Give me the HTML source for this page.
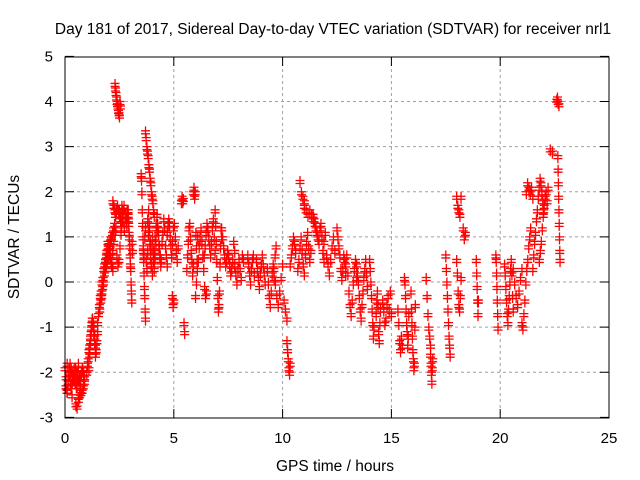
<!DOCTYPE html>
<html><head><meta charset="utf-8"><style>
body{margin:0;background:#fff}
svg{display:block;font-family:"Liberation Sans",sans-serif;font-size:15px}
</style></head><body>
<svg id="c" width="640" height="480">
<text x="333" y="34" text-anchor="middle" font-size="15.5">Day 181 of 2017, Sidereal Day-to-day VTEC variation (SDTVAR) for receiver nrl1</text>
<text x="335" y="471" text-anchor="middle" font-size="15.5">GPS time / hours</text>
<text transform="translate(19,237) rotate(-90)" text-anchor="middle" font-size="15.5">SDTVAR / TECUs</text>
<g id="grid"></g><g id="ticks"></g><g id="marks"></g>
<rect x="65" y="57" width="544" height="361" fill="none" stroke="#000"/>
</svg>
<script>
const xTicks=[0,5,10,15,20,25];
const yTicks=[-3,-2,-1,0,1,2,3,4,5];
// tracks: [startHour, endHour, values...]
const tracks=[
[0.0,0.9,-1.9,-2.3,-2.4,-2.1,-2.0,-2.2,-1.9,-2.0,-2.1,-1.9,-2.2,-2.3,-2.0,-1.8,-2.1,-2.2,-2.0,-1.9,-2.0,-2.1],
[0.05,0.6,-2.1,-2.4,-2.2,-2.0,-1.8,-2.3,-2.5,-2.1,-1.95,-2.2,-2.0,-2.3,-2.1],
[0.1,0.8,-1.8,-1.9,-2.0,-2.2,-2.1,-1.9,-2.0,-2.2,-2.1,-1.9],
[0.5,0.9,-2.7,-2.75,-2.6,-2.5,-2.45,-2.4,-2.3,-2.2],
[1.0,1.5,-2.0,-1.8,-1.7,-1.5,-1.4,-1.2,-1.1,-0.9,-0.8,-0.9,-1.0,-1.2,-1.4,-1.5,-1.3,-1.1],
[1.1,1.4,-1.9,-1.6,-1.3,-1.0,-0.8,-0.9,-1.1,-1.3,-1.6],
[1.5,2.1,-0.9,-0.7,-0.5,-0.3,-0.2,0.0,0.1,0.3,0.4,0.5,0.6,0.7,0.8,0.85,0.9,1.0],
[1.6,2.2,-0.6,-0.4,-0.3,-0.1,0,0.2,0.3,0.4,0.5,0.6,0.7,0.6,0.5,0.4,0.3],
[1.7,2.3,-0.2,0.1,0.3,0.5,0.7,0.9,0.8,0.6,0.4,0.7,0.9,1.1],
[2.0,2.6,0.6,0.8,0.9,1.0,1.1,1.2,1.3,1.5,1.6,1.7,1.6,1.5,1.4,1.3],
[2.3,2.55,4.4,4.3,4.2,4.1,4.0,3.95,3.9,3.8,3.75,3.7,4.0,3.9],
[2.2,2.9,1.8,1.7,1.6,1.2,0.6,0.4,0.5,0.8,1.1,1.4,1.6,1.7,1.5,1.4,1.6,1.5],
[2.5,2.9,1.6,1.5,1.7,1.4,1.2,1.5,1.3,1.6],
[2.9,3.1,1.6,1.4,1.3,1.1,1.0,0.8,0.6,0.4,0.3,0.0,-0.2,-0.4,0.9,0.7],
[3.5,3.7,2.4,2.3,2.0,1.6,1.3,1.0,0.7,0.5,0.2,-0.1,-0.3,-0.6,-0.8],
[3.7,4.1,3.35,3.2,3.0,2.9,2.8,2.6,2.5,2.3,2.2,2.0,1.9,1.8,1.6,1.5],
[3.6,4.1,0.8,0.6,1.0,1.2,0.5,0.3,0.7,1.1,1.3,0.9,0.6,0.4,0.8,1.0,0.7,0.5],
[4.1,4.7,0.3,0.6,0.9,1.2,1.3,1.1,0.8,0.6,0.5,0.9,1.1,1.4,1.2,0.8,0.6,0.4],
[3.8,4.4,1.4,1.6,1.2,0.9,0.4,0.2,0.5,0.7,1.0,1.3,1.5,1.2,0.8,0.6,0.4],
[4.7,5.0,1.1,1.3,1.4,1.3,1.0,0.8,0.6,-0.3,-0.5,-0.4],
[4.9,5.2,0.6,0.9,1.2,1.3,1.0,0.7,0.5,0.8],
[5.35,5.5,1.8,1.9,1.8,1.85,-0.9,-1.1],
[5.6,5.9,0.3,0.6,0.9,1.2,1.3,1.0,0.7,0.5,0.2,0.4],
[5.9,6.1,2.0,2.1,1.9,2.0,1.1,0.8,0.5,1.0],
[6.0,6.5,-0.3,0.0,0.3,0.5,0.8,1.0,1.2,0.9,0.6,0.3,-0.1,-0.3,-0.2],
[6.4,6.9,0.6,0.8,1.1,1.3,1.2,1.0,0.8,0.6,0.9,1.2,1.4,1.0,0.7],
[6.9,7.2,1.6,1.3,0.9,0.5,0.1,-0.3,-0.6,-0.5,-0.2,0.4,0.8,1.2,1.0],
[7.2,7.8,1.2,1.0,0.8,0.6,0.4,0.5,0.7,0.6,0.4,0.2,0.3,0.5,0.9,0.7],
[7.8,8.2,0.4,0.2,0.0,0.3,0.5,0.3,0.1,0.6,0.5],
[8.4,8.7,0.6,0.4,0.2,0.0,0.3,0.5,0.6,0.2],
[8.8,9.2,0.5,0.3,0.1,-0.1,0.2,0.4,0.6,0.4,0.2,0.0],
[9.3,9.7,0.3,0.0,-0.3,-0.5,-0.2,0.2,0.4,0.1,0.6,0.8],
[9.6,10.2,0.3,0.0,-0.3,-0.5,-0.2,0.1,0.4,-0.4,-0.6,-0.8],
[10.2,10.35,-1.3,-1.5,-1.7,-1.9,-2.0,-1.8],
[10.35,10.6,0.4,0.6,0.8,1.0,0.9,0.7],
[10.8,11.0,2.25,2.0,1.9,1.8],
[11.0,11.5,1.7,1.6,1.5,1.6,1.5,1.4,1.3],
[10.7,11.3,0.3,0.5,0.8,1.0,0.7,0.4,0.2,0.6,0.9,1.1,0.8,0.5,0.7],
[11.4,11.9,1.5,1.4,1.3,1.2,1.1,1.0,0.9,1.2,1.3,1.0,0.7,0.5],
[11.9,12.4,0.9,1.1,0.6,0.4,0.2,0.5,0.8,1.0,0.7],
[12.5,12.9,1.2,1.0,0.8,0.6,0.3,0.1,0.3,0.6,0.5,0.2],
[12.9,13.4,0.4,0.6,0.2,-0.2,-0.5,-0.7,-0.4,0.0,0.3,0.5,0.1],
[13.4,13.9,0.4,0.2,0.0,-0.3,-0.6,-0.8,-0.5,-0.2,0.1,0.3,0.5,0.2,-0.1],
[14.0,14.2,0.5,0.3,0.0,-0.3,-0.6,-0.9,-1.2,-1.0],
[14.3,14.5,-0.7,-0.4,-0.2,-0.5,-1.1,-1.3,-0.9,-0.6],
[14.6,15.0,-0.4,-0.6,-0.9,-0.8,-0.5,-0.3,-0.6,-0.2,-0.7],
[15.3,15.5,-0.6,-0.9,-1.3,-1.5,-1.2,-1.4],
[15.6,15.8,0.1,0.0,-0.3,-0.6,-0.9,-1.1,-1.4,-1.2,-0.7],
[15.9,16.1,-0.2,-0.6,-0.9,-1.2,-1.5,-1.7,-1.9,-1.8,-1.0,-0.5],
[16.6,16.8,0.1,-0.3,-0.7,-1.0,-1.2,-1.4],
[16.8,16.9,-1.6,-1.8,-2.0,-2.2,-1.9,-1.7],
[17.5,17.7,0.6,0.3,0.0,-0.3,-0.6,-0.9,-1.2,-1.4,-1.6],
[18.0,18.2,1.9,1.7,1.6,1.5,1.9],
[18.0,18.2,0.5,0.2,-0.2,-0.5,-0.6,-0.3,0.1],
[18.3,18.4,1.2,1.0,1.1],
[18.9,19.0,0.5,0.2,-0.1,-0.4,-0.7,-0.4],
[19.8,19.9,0.6,0.5,0.2,-0.1,-0.4,-0.7,-1.0],
[20.2,20.6,0.4,0.2,-0.1,-0.4,-0.7,-0.9,-0.6,-0.3,0.0,0.3,0.5,0.2,-0.3,-0.6],
[20.6,21.0,0.3,0.0,-0.3,-0.5,-0.2,0.1,0.3],
[21.0,21.4,-0.9,-1.0,-0.7,-0.4,0.0,0.3,0.5,0.8,1.0,1.2],
[21.2,21.5,2.0,2.2,2.1,2.0,2.1,1.9],
[21.5,22.0,0.3,0.6,0.9,1.1,1.4,1.6,1.9,2.1,2.3,2.2,2.0,1.8,1.6],
[21.8,22.2,0.5,0.7,0.9,1.2,1.5,1.7,1.9,2.0,1.8,2.1],
[22.3,22.4,2.95,2.9],
[22.6,22.7,4.05,4.1,4.0,3.95],
[22.65,22.75,2.8,2.5,2.2,1.9,1.6,1.3,1.0,0.7,0.5]
];
const X=h=>65+h*21.76, Y=v=>282-v*45.125;
const NS="http://www.w3.org/2000/svg";
const grid=document.getElementById('grid'),ticks=document.getElementById('ticks'),marks=document.getElementById('marks');
function mk(tag,attrs,parent){const e=document.createElementNS(NS,tag);for(const k in attrs)e.setAttribute(k,attrs[k]);parent.appendChild(e);return e;}
xTicks.forEach(t=>{const x=X(t);
 if(t>0&&t<25){const g=mk('line',{x1:x,x2:x,y1:57,y2:418,stroke:'#a0a0a0','stroke-dasharray':'3,3'},grid);
 
 }
 mk('line',{x1:x,x2:x,y1:418,y2:409,stroke:'#000'},ticks);
 mk('line',{x1:x,x2:x,y1:57,y2:66,stroke:'#000'},ticks);
 const l=mk('text',{x:x,y:443,'text-anchor':'middle'},ticks);l.textContent=t;
 
 
});
yTicks.forEach(t=>{const y=Y(t);
 if(t>-3&&t<5){const g=mk('line',{x1:65,x2:609,y1:y,y2:y,stroke:'#a0a0a0','stroke-dasharray':'3,3'},grid);
 
 }
 mk('line',{x1:65,x2:74,y1:y,y2:y,stroke:'#000'},ticks);
 mk('line',{x1:600,x2:609,y1:y,y2:y,stroke:'#000'},ticks);
 const l=mk('text',{x:53,y:y+5,'text-anchor':'end'},ticks);l.textContent=t;
 
 
});
tracks.forEach(tr=>{const t0=tr[0],t1=tr[1],vals=tr.slice(2),n=vals.length;
 vals.forEach((v,i)=>{const h=t0+(n>1?(t1-t0)*i/(n-1):0);const x=X(h),y=Y(v);
  const p=mk('path',{d:`M${x-4.5} ${y}h9M${x} ${y-4.5}v9M${x-4.5} ${y+3}h9M${x} ${y-1.5}v9`,stroke:'#f00','stroke-width':1.3,fill:'none'},marks);
  
  
 });
});
</script>
</body></html>
